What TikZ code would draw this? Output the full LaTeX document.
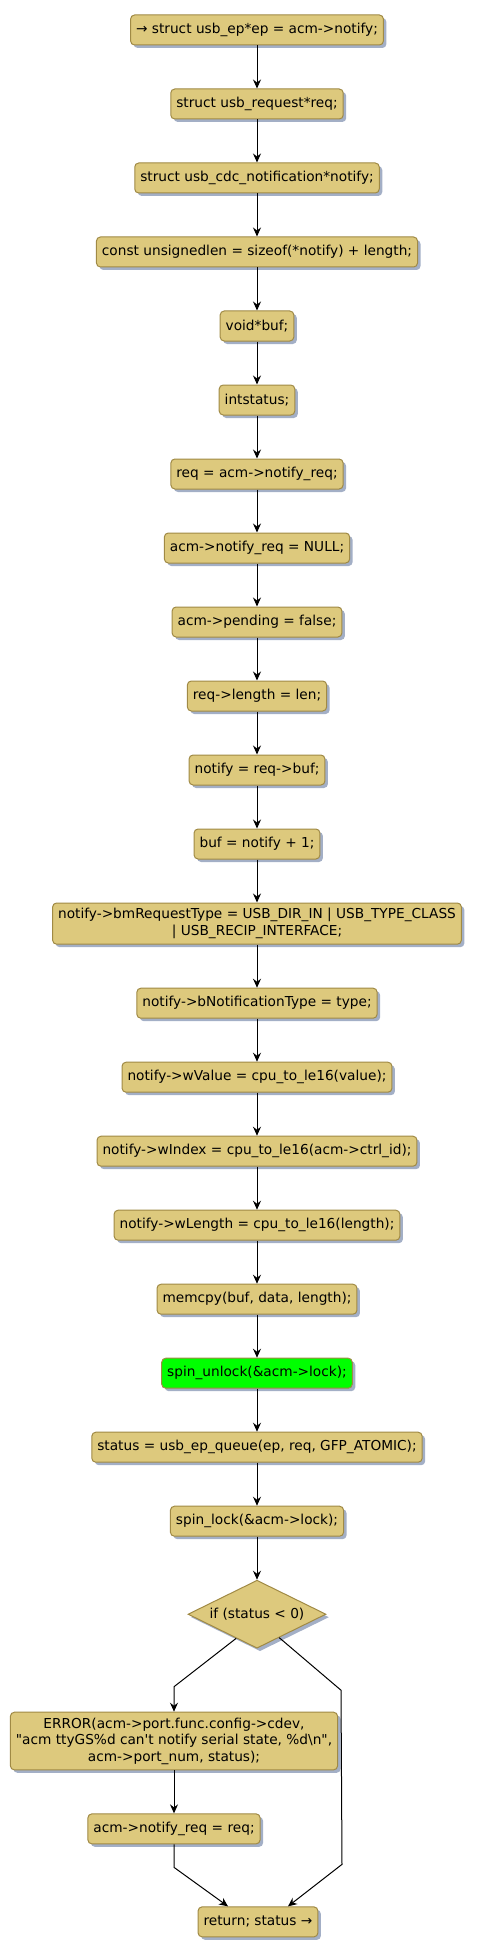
\documentclass[tikz,border=0pt]{standalone}
\usepackage{fontspec}
\newfontfamily\flowfont{DejaVu Sans}
\usepackage{xcolor}
\usepackage{tikz}
\usetikzlibrary{shapes.geometric, arrows.meta, positioning, shadows, calc}

\definecolor{boxfill}{HTML}{DDC97D}
\definecolor{boxline}{HTML}{A08A45}
\definecolor{shade}{HTML}{A3AFC6}
\definecolor{lockgreen}{HTML}{00FF00}

\begin{document}
\begin{tikzpicture}[
        node distance=43pt,
        box/.style={
            rectangle,
            draw=boxline,
            fill=boxfill,
            line width=1pt,
            rounded corners=4pt,
            minimum height=30pt,
            inner xsep=5.5pt,
            inner ysep=5.5pt,
            align=center,
            font=\flowfont\fontsize{13.7}{16.5}\selectfont,
            drop shadow={shadow xshift=3pt, shadow yshift=-3pt, fill=shade, opacity=1}
        },
        hot/.style={
            box,
            fill=lockgreen
        },
        decision/.style={
            diamond,
            draw=boxline,
            fill=boxfill,
            line width=1pt,
            aspect=2,
            inner sep=0pt,
            minimum width=138pt,
            minimum height=68pt,
            font=\flowfont\fontsize{13.7}{16.5}\selectfont,
            drop shadow={shadow xshift=3pt, shadow yshift=-3pt, fill=shade, opacity=1}
        },
        arrow/.style={-{Stealth[length=9pt, width=8pt, inset=3pt]}, line width=1pt, draw=black}
    ]

    \useasboundingbox (0,0) rectangle (483pt,-1958pt);

    \node (ep) [box] at (257pt,-30pt) {→ struct usb\_ep*ep = acm->notify;};
    \node (req) [box, below=of ep] {struct usb\_request*req;};
    \node (notifyvar) [box, below=of req] {struct usb\_cdc\_notification*notify;};
    \node (len) [box, below=of notifyvar] {const unsignedlen = sizeof(*notify) + length;};
    \node (bufvar) [box, below=of len] {void*buf;};
    \node (statusvar) [box, below=of bufvar] {intstatus;};
    \node (getreq) [box, below=of statusvar] {req = acm->notify\_req;};
    \node (clearreq) [box, below=of getreq] {acm->notify\_req = NULL;};
    \node (pending) [box, below=of clearreq] {acm->pending = false;};
    \node (reqlen) [box, below=of pending] {req->length = len;};
    \node (notify) [box, below=of reqlen] {notify = req->buf;};
    \node (bufset) [box, below=of notify] {buf = notify + 1;};
    \node (reqtype) [box, below=of bufset] {notify->bmRequestType = USB\_DIR\_IN | USB\_TYPE\_CLASS\\| USB\_RECIP\_INTERFACE;};
    \node (ntype) [box, below=of reqtype] {notify->bNotificationType = type;};
    \node (wvalue) [box, below=of ntype] {notify->wValue = cpu\_to\_le16(value);};
    \node (windex) [box, below=of wvalue] {notify->wIndex = cpu\_to\_le16(acm->ctrl\_id);};
    \node (wlength) [box, below=of windex] {notify->wLength = cpu\_to\_le16(length);};
    \node (copy) [box, below=of wlength] {memcpy(buf, data, length);};
    \node (unlock) [hot, below=of copy] {spin\_unlock(\&acm->lock);};
    \node (queue) [box, below=of unlock] {status = usb\_ep\_queue(ep, req, GFP\_ATOMIC);};
    \node (lock) [box, below=of queue] {spin\_lock(\&acm->lock);};
    \node (check) [decision, below=of lock] {if (status < 0)};
    \node (error) [box, below=63pt of check, xshift=-83pt] {ERROR(acm->port.func.config->cdev,\\"acm ttyGS\%d can't notify serial state, \%d\textbackslash n",\\acm->port\_num, status);};
    \node (restore) [box, below=of error] {acm->notify\_req = req;};
    \node (ret) [box, below=62pt of restore, xshift=84pt] {return; status →};

    \draw [arrow] (ep) -- (req);
    \draw [arrow] (req) -- (notifyvar);
    \draw [arrow] (notifyvar) -- (len);
    \draw [arrow] (len) -- (bufvar);
    \draw [arrow] (bufvar) -- (statusvar);
    \draw [arrow] (statusvar) -- (getreq);
    \draw [arrow] (getreq) -- (clearreq);
    \draw [arrow] (clearreq) -- (pending);
    \draw [arrow] (pending) -- (reqlen);
    \draw [arrow] (reqlen) -- (notify);
    \draw [arrow] (notify) -- (bufset);
    \draw [arrow] (bufset) -- (reqtype);
    \draw [arrow] (reqtype) -- (ntype);
    \draw [arrow] (ntype) -- (wvalue);
    \draw [arrow] (wvalue) -- (windex);
    \draw [arrow] (windex) -- (wlength);
    \draw [arrow] (wlength) -- (copy);
    \draw [arrow] (copy) -- (unlock);
    \draw [arrow] (unlock) -- (queue);
    \draw [arrow] (queue) -- (lock);
    \draw [arrow] (lock) -- (check);

    % branches of the check
    \draw [arrow] ($(check.west)!0.7!(check.south)$) -- ([yshift=25pt]error.north) -- (error);
    \draw [arrow] (error) -- (restore);
    \draw [arrow] (restore) -- ([yshift=-23pt]restore.south) -- ([xshift=-30pt]ret.north);
    \draw [arrow] ($(check.east)!0.68!(check.south)$) -- ([xshift=84pt, yshift=-76pt]check.center) -- ([xshift=84pt, yshift=42pt]ret.north) -- ([xshift=30pt]ret.north);

\end{tikzpicture}
\end{document}
